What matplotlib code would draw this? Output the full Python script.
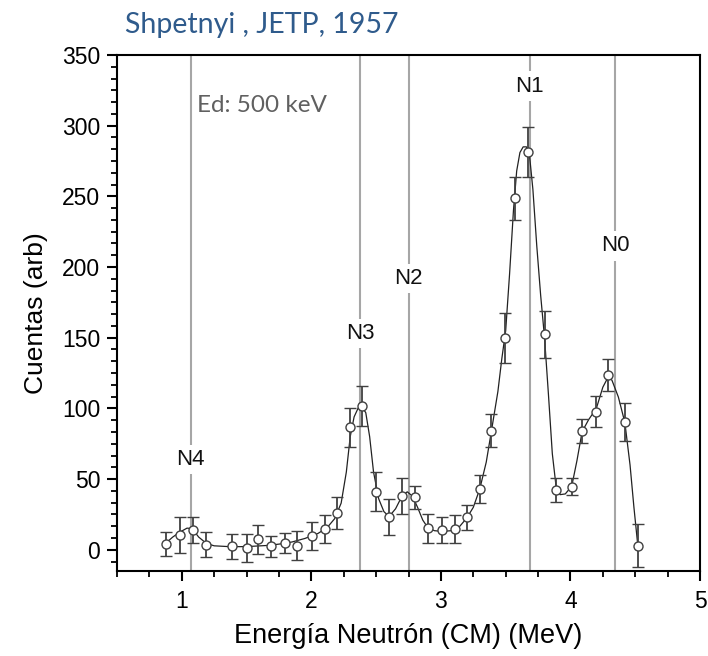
import numpy as np
import matplotlib.pyplot as plt
from matplotlib.ticker import MultipleLocator, AutoMinorLocator

# measured points (Shpetnyi, JETP 1957)
energy = [0.876, 0.985, 1.083, 1.186, 1.39, 1.50, 1.59, 1.69, 1.80, 1.89,
          2.005, 2.105, 2.20, 2.30, 2.39, 2.50, 2.60, 2.70, 2.80, 2.90,
          3.01, 3.11, 3.20, 3.30, 3.39, 3.496, 3.57, 3.674, 3.80, 3.89,
          4.01, 4.09, 4.20, 4.29, 4.42, 4.52]
counts = [4.0, 10.4, 14.0, 3.5, 2.4, 1.2, 7.3, 2.4, 4.7, 3.0,
          9.7, 14.6, 25.7, 86.5, 101.8, 41.0, 23.2, 38.2, 37.0, 15.1,
          13.9, 14.9, 22.9, 43.0, 84.3, 150.0, 248.6, 281.4, 152.3, 42.3,
          44.6, 83.8, 97.7, 123.9, 90.2, 2.8]
err = [8.5, 12.9, 9.0, 8.9, 8.9, 10.0, 10.0, 7.4, 7.0, 10.0,
       10.0, 10.0, 11.3, 13.6, 14.0, 13.7, 12.7, 12.7, 8.3, 10.0,
       9.0, 9.8, 8.6, 10.0, 11.6, 17.7, 15.3, 17.7, 16.5, 8.5,
       6.0, 8.6, 11.2, 11.3, 13.6, 15.3]

# guide curve
curve_x = [0.88, 0.93, 0.985, 1.04, 1.08, 1.13, 1.19, 1.25, 1.35, 1.45,
           1.55, 1.65, 1.75, 1.85, 1.95, 2.05, 2.12, 2.18, 2.23, 2.27,
           2.30, 2.33, 2.36, 2.39, 2.42, 2.45, 2.48, 2.52, 2.56, 2.60,
           2.65, 2.70, 2.74, 2.78, 2.82, 2.86, 2.90, 2.95, 3.01, 3.08,
           3.14, 3.20, 3.25, 3.30, 3.35, 3.39, 3.44, 3.47, 3.50, 3.53,
           3.56, 3.585, 3.61, 3.635, 3.66, 3.685, 3.71, 3.74, 3.77, 3.80,
           3.83, 3.86, 3.89, 3.92, 3.96, 4.01, 4.05, 4.09, 4.14, 4.20,
           4.25, 4.29, 4.32, 4.37, 4.42, 4.46, 4.49, 4.52]
curve_y = [5, 9, 12.5, 15.3, 15, 9, 4.5, 2.8, 2.3, 2.2,
           2.5, 3.0, 4.0, 5.5, 8, 11.5, 15.5, 22, 33, 55,
           80, 94, 100, 101, 97, 80, 55, 36, 27, 23.5,
           29, 38, 41, 38, 30, 21, 15.5, 13.5, 13, 13.5,
           16, 22.5, 30, 43, 62, 84, 112, 135, 155, 195,
           240, 268, 281, 285, 285, 278, 255, 215, 180, 150,
           110, 68, 44, 39, 39.5, 45, 63, 83.5, 92, 100,
           115, 122, 120, 108, 90, 60, 30, 3]

# neutron group positions
groups = ["N4", "N3", "N2", "N1", "N0"]
group_x = [1.07, 2.377, 2.75, 3.684, 4.343]
label_y = [64, 153, 192, 328, 215]

plt.rcParams['font.family'] = ['Liberation Sans', 'DejaVu Sans']

fig = plt.figure(figsize=(7.08, 6.56), dpi=100)
ax = fig.add_axes([0.1653, 0.1296, 0.8234, 0.7866])

for gx, gy, name in zip(group_x, label_y, groups):
    ax.axvline(gx, color="#a6a6a6", lw=1.5, zorder=1)
    ax.text(gx, gy, name, ha="center", va="center", fontsize=16,
            color="#111111", zorder=2,
            bbox=dict(facecolor="white", edgecolor="none", pad=3))

ax.plot(curve_x, curve_y, color="#222222", lw=0.9, zorder=3)
ax.errorbar(energy, counts, yerr=err, fmt="o", color="#404040",
            ecolor="#404040", elinewidth=1.3, capsize=4, capthick=1.3,
            mfc="white", mec="#404040", ms=6.5, mew=1.0, zorder=4)

ax.text(1.116, 314, "Ed: 500 keV", fontsize=17.5, color="#606060",
        family=["Lato", "DejaVu Sans"], va="center", ha="left")

ax.set_xlim(0.5, 5)
ax.set_ylim(-15, 350)
ax.xaxis.set_major_locator(MultipleLocator(1))
ax.xaxis.set_minor_locator(AutoMinorLocator(4))
ax.yaxis.set_major_locator(MultipleLocator(50))
ax.yaxis.set_minor_locator(AutoMinorLocator(6))
ax.tick_params(which="major", direction="out", length=7, width=1.5,
               labelsize=16.5, pad=5)
ax.tick_params(axis="x", which="major", pad=7)
ax.tick_params(which="minor", direction="out", length=4, width=1.3)
for s in ax.spines.values():
    s.set_linewidth(1.5)

ax.set_xlabel("Energía Neutrón (CM) (MeV)", fontsize=19.5, labelpad=7)
ax.set_ylabel("Cuentas (arb)", fontsize=19, labelpad=10)

fig.text(0.177, 0.962, "Shpetnyi , JETP, 1957", fontsize=20.5,
         color="#2f5b8c", family=["Lato", "DejaVu Sans"], va="center")

fig.savefig("out.png", dpi=100)
